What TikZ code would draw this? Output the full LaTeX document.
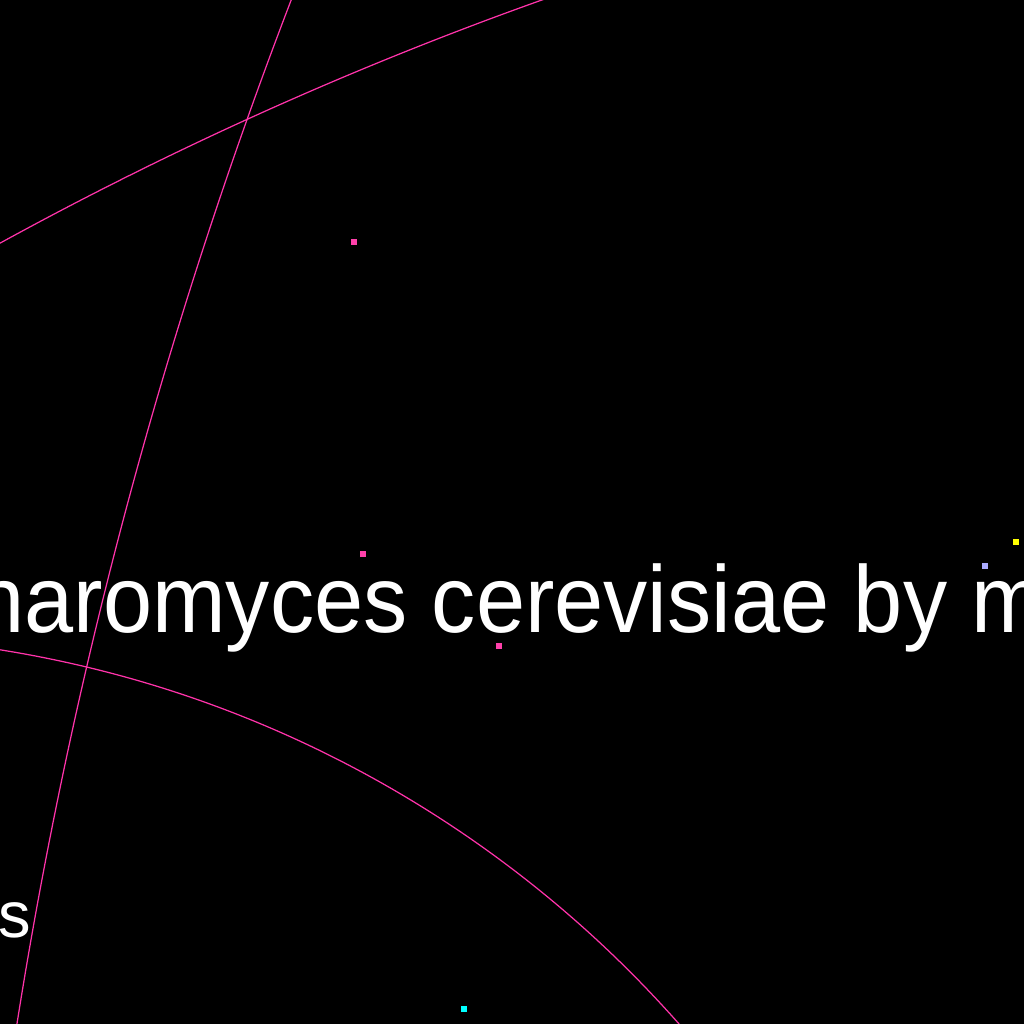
\documentclass[tikz,border=0pt]{standalone}
\usepackage{fontspec}
\setmainfont{Liberation Sans}
\usetikzlibrary{positioning}
\definecolor{linkpink}{RGB}{255,51,170}
\definecolor{dotpink}{RGB}{255,64,170}
\definecolor{dotyellow}{RGB}{255,255,0}
\definecolor{dotlav}{RGB}{170,170,255}
\definecolor{dotcyan}{RGB}{0,255,255}
\tikzset{
  dot/.style={rectangle,fill=#1,inner sep=0pt,minimum size=1.5pt},
  link/.style={draw=linkpink,line width=0.35pt},
  biglabel/.style={text=white,inner sep=0pt,font=\fontsize{27}{30}\selectfont},
  smalllabel/.style={text=white,inner sep=0pt,font=\fontsize{18.5}{20}\selectfont},
}
\begin{document}
\begin{tikzpicture}[x=0.01cm,y=-0.01cm]
      \useasboundingbox (0,0) rectangle (1024,1024);
      \fill[black] (0,0) rectangle (1024,1024);
      \clip (0,0) rectangle (1024,1024);

      % arcs of the big circles
      \draw[link] (1800.7,3535.4) circle[radius=3751.8];
      \draw[link] (5060.6,1829.3) circle[radius=5106.8];
      \draw[link] (-181.6,1783.1) circle[radius=1147.6];

      \node[dot=dotpink] (d1) at (354,242) {};
      \node[dot=dotpink] (d2) at (363,554) {};
      \node[dot=dotpink] (d3) at (499,646) {};
      \node[dot=dotyellow] (d4) at (1016,542) {};
      \node[dot=dotlav] (d5) at (985,566) {};
      \node[dot=dotcyan] (d6) at (464,1009) {};

      \node[biglabel,anchor=base west] (species) at (-25,632) {\scalebox{0.93}[1]{haromyces cerevisiae by m}};
      \node[smalllabel,anchor=base west] (tail) at (-2,937) {s};
    \end{tikzpicture}
\end{document}
